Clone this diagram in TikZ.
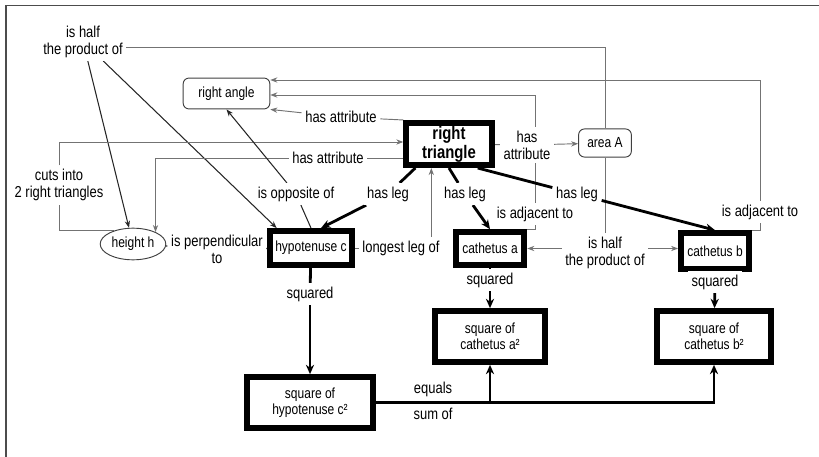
\documentclass[tikz,border=0pt]{standalone}
\usepackage{fontspec}
\setmainfont{Liberation Sans}[FakeStretch=0.82]
\usepackage{tikz}
\usetikzlibrary{arrows.meta}
\usetikzlibrary{backgrounds}
\usetikzlibrary{calc}
\usetikzlibrary{shapes.geometric}

\tikzset{
	txt/.style={font=\fontsize{12.5}{14}\selectfont},
	linktxt/.style={font=\fontsize{13.5}{14.5}\selectfont},
	concept/.style={txt, draw=black, line width=5pt, fill=white, inner sep=0pt, align=center},
	attrib/.style={txt, draw=black!75, line width=0.8pt, rounded corners=5pt, fill=white, inner sep=0pt},
	link/.style={linktxt, fill=white, inner sep=3pt, align=center},
	greyline/.style={draw=black!55, line width=0.8pt, >={Stealth[length=6pt,width=4.5pt]}},
	darkline/.style={draw=black!85, line width=0.9pt, >={Stealth[length=6pt,width=4.5pt]}},
	heavyline/.style={draw=black, line width=2.4pt, >={Stealth[length=8pt,width=7pt]}}
}

\begin{document}
\begin{tikzpicture}[x=0.03cm, y=-0.03cm]
	\useasboundingbox (0,0) rectangle (819,457);
	\draw[black!70, line width=1.7pt] (6,457) -- (6,5.5) -- (819,5.5);

	\node[concept, font=\bfseries\fontsize{15.5}{16}\selectfont, minimum width=73pt, minimum height=36pt] (tri) at (449,144) {right\\triangle};
	\node[concept, minimum width=70.6pt, minimum height=29pt] (hyp) at (311,248) {hypotenuse c};
	\node[concept, minimum width=58.7pt, minimum height=28pt] (cata) at (490,248.5) {cathetus a};
	\node[concept, minimum width=58pt, minimum height=30.6pt] (catb) at (715,251) {cathetus b};
	\node[concept, minimum width=94.5pt, minimum height=43.4pt] (sqa) at (490,336.5) {square of\\cathetus a²};
	\node[concept, minimum width=97pt, minimum height=43.4pt] (sqb) at (714,336.5) {square of\\cathetus b²};
	\node[concept, minimum width=108pt, minimum height=43.4pt] (sqc) at (310,402.5) {square of\\hypotenuse c²};

	\node[attrib, minimum width=74pt, minimum height=26.4pt] (angle) at (226.5,93.5) {right angle};
	\node[attrib, minimum width=45pt, minimum height=24pt] (area) at (605,143) {area A};
	\node[attrib, ellipse, rounded corners=0pt, minimum width=56pt, minimum height=27pt] (height) at (133,244) {height h};

	\begin{scope}[every node/.style={link}]
		\node (lhalf1) at (83,41.5) {is half\\the product of};
		\node (lhalf2) at (605,252.5) {is half\\the product of};
		\node (lattr1) at (341,117) {has attribute};
		\node (lattr2) at (527,145) {has\\attribute};
		\node (lattr3) at (328,158) {has attribute};
		\node (lcuts) at (59,185) {cuts into\\2 right triangles};
		\node (lopp) at (296,194) {is opposite of};
		\node (lleg1) at (388,194) {has leg};
		\node (lleg2) at (465,194) {has leg};
		\node (lleg3) at (577,194) {has leg};
		\node (ladja) at (535,214) {is adjacent to};
		\node (ladjb) at (760,212) {is adjacent to};
		\node (lperp) at (217,249) {is perpendicular\\to};
		\node (llong) at (401,248) {longest leg of};
		\node (lsqc) at (310,294) {squared};
		\node (lsqa) at (490,280) {squared};
		\node (lsqb) at (715,282) {squared};
	\end{scope}
	\coordinate (longtop) at ($(tri.south west)+(28,0)$);

	\begin{scope}[on background layer]
		\draw[greyline] (area.north) |- ($(lhalf1.east)+(0,6)$);
		\draw[greyline] (area) -- (lhalf2);
		\draw[greyline,->] (lhalf2.west |- cata.east) -- (cata.east);
		\draw[greyline,->] (lhalf2.east |- cata.east) -- (catb.west |- cata.east);
		\draw[darkline,->] (lhalf1) -- (height);
		\draw[darkline,->] (lhalf1) -- ($(hyp.north west)+(10,0)$);

		\draw[greyline] (tri.north west) -- (lattr1);
		\draw[greyline,->] (lattr1) -- (angle.south east);
		\draw[greyline] (tri) -- (lattr2);
		\draw[greyline,->] (lattr2) -- (area);
		\draw[greyline] ($(tri.west)+(0,14)$) -- (lattr3);
		\draw[greyline,->] (lattr3) -| (height.28);

		\draw[greyline] (catb.north east) -| (ladjb);
		\draw[greyline,->] (ladjb) |- ($(angle.east)+(0,-13.5)$);
		\draw[greyline] (cata.north east) -| (ladja);
		\draw[greyline,->] (ladja) |- ($(angle.east)+(0,1.5)$);

		\draw[greyline] (height.145) -| (lcuts);
		\draw[greyline,->] (lcuts) |- ($(tri.west)+(0,-2)$);

		\draw[darkline] (hyp.north) -- (lopp);
		\draw[darkline,->] (lopp) -- (angle.south);
		\draw[greyline] (hyp) -- (llong);
		\draw[greyline,->] (llong.north -| longtop) -- (longtop);
		\draw[darkline] (height) -- (lperp);
		\draw[darkline,->] (lperp) -- (hyp);

		\draw[heavyline] ($(tri.south west)+(12,0)$) -- (lleg1);
		\draw[heavyline,->] (lleg1) -- ($(hyp.north)+(10,0)$);
		\draw[heavyline] (tri.south) -- (lleg2);
		\draw[heavyline,->] (lleg2) -- (cata.north);
		\draw[heavyline] ($(tri.south east)+(-17,0)$) -- (lleg3);
		\draw[heavyline,->] (lleg3) -- (catb.north);

		\draw[heavyline] (hyp) -- (lsqc);
		\draw[heavyline,->] (lsqc) -- (sqc);
		\draw[heavyline] (cata) -- (lsqa);
		\draw[heavyline,->] (lsqa) -- (sqa);
		\draw[heavyline] (catb) -- (lsqb);
		\draw[heavyline,->] (lsqb) -- (sqb);

		\draw[heavyline,->] (sqc.east) -| (sqb.south);
		\draw[heavyline,->] (sqc.east -| sqa.south) -- (sqa.south);
	\end{scope}
	\path (sqc.east) -- node[linktxt, above=1pt] (lequals) {equals} node[linktxt, below=1pt] (lsum) {sum of} (sqc.east -| sqa.south);
\end{tikzpicture}
\end{document}
